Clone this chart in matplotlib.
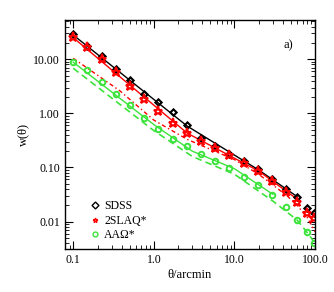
import numpy as np
import matplotlib
matplotlib.use("Agg")
import matplotlib.pyplot as plt
from matplotlib.ticker import FixedLocator, LogLocator, NullFormatter

# ---- data ----
theta = [0.1, 0.15, 0.225, 0.3375, 0.506, 0.759, 1.139, 1.709, 2.563, 3.844,
         5.767, 8.65, 12.97, 19.46, 29.19, 43.79, 60.0, 80.0, 98.0]
w_sdss = [28.7, 17.6, 11.7, 6.47, 4.14, 2.25, 1.60, 1.04, 0.597, 0.351,
          0.249, 0.181, 0.132, 0.0937, 0.0613, 0.040, 0.0288, 0.0181, 0.0146]
w_2slaq = [25.8, 17.0, 10.1, 5.75, 3.21, 1.87, 1.12, 0.673, 0.429, 0.315,
           0.229, 0.170, 0.120, 0.0873, 0.0571, 0.0357, 0.0233, 0.0142, 0.0115]
w_aao = [8.81, 6.34, 3.76, 2.28, 1.43, 0.822, 0.515, 0.332, 0.249, 0.181,
         0.132, 0.099, 0.0676, 0.0475, 0.0310, 0.0184, 0.0107, 0.0063, 0.0040]

# model curves
theta_sdss_fit = [0.1, 2.6, 20.0, 60.0]
w_sdss_fit = [28.0, 0.58, 0.090, 0.029]
theta_2slaq_fit = [0.1, 2.6, 20.0, 60.0]
w_2slaq_fit = [25.0, 0.43, 0.086, 0.026]
theta_2slaq_alt = [0.1, 0.38, 1.0, 2.6, 10.0, 20.0, 45.0, 60.0, 80.0, 100.0]
w_2slaq_alt = [10.4, 2.6, 0.75, 0.33, 0.14, 0.075, 0.030, 0.020, 0.012, 0.0065]
theta_aao_fit = [0.1, 1.0, 3.0, 10.0, 30.0]
w_aao_fit = [8.8, 0.62, 0.20, 0.095, 0.032]
theta_aao_alt = [0.1, 1.0, 3.0, 10.0, 30.0, 60.0, 80.0, 100.0]
w_aao_alt = [6.8, 0.48, 0.16, 0.075, 0.024, 0.0107, 0.0063, 0.0040]

xticks = [0.1, 1.0, 10.0, 100.0]
xticklabels = ["0.1", "1.0", "10.0", "100.0"]
yticks = [0.01, 0.1, 1.0, 10.0]
yticklabels = ["0.01", "0.10", "1.00", "10.00"]

GREEN = "#3be33b"
RED = "#ff0000"

plt.rcParams['font.family'] = ['Liberation Serif', 'DejaVu Serif']
plt.rcParams['mathtext.fontset'] = 'stix'

fig = plt.figure(figsize=(3.34, 2.92), dpi=100)
ax = fig.add_axes([0.1946, 0.1462, 0.7485, 0.7853])

# model lines
ax.plot(theta_sdss_fit, w_sdss_fit, color='black', lw=1.0)
ax.plot(theta_2slaq_fit, w_2slaq_fit, color=RED, lw=1.0)
ax.plot(theta_2slaq_alt, w_2slaq_alt, color=RED, lw=1.0, linestyle=(0, (3, 2, 1, 2)))
ax.plot(theta_aao_fit, w_aao_fit, color=GREEN, lw=1.0)
ax.plot(theta_aao_alt, w_aao_alt, color=GREEN, lw=1.2, linestyle=(0, (4, 2.5)))

# data points
ax.plot(theta, w_sdss, linestyle='none', marker='D', ms=3.2, mfc='none',
        mec='black', mew=1.5, label='SDSS')
ax.plot(theta, w_2slaq, linestyle='none', marker='*', ms=6.5, mfc='none',
        mec=RED, mew=1.5, label='2SLAQ*')
ax.plot(theta, w_aao, linestyle='none', marker='o', ms=4, mfc='none',
        mec=GREEN, mew=1.4, label='AAΩ*')

ax.set_xscale('log')
ax.set_yscale('log')
ax.set_xlim(0.079, 100)
ax.set_ylim(0.00308, 53)

ax.xaxis.set_major_locator(FixedLocator(xticks))
ax.set_xticklabels(xticklabels)
ax.yaxis.set_major_locator(FixedLocator(yticks))
ax.set_yticklabels(yticklabels)
ax.xaxis.set_minor_locator(LogLocator(base=10, subs=np.arange(2, 10), numticks=20))
ax.yaxis.set_minor_locator(LogLocator(base=10, subs=np.arange(2, 10), numticks=20))
ax.xaxis.set_minor_formatter(NullFormatter())
ax.yaxis.set_minor_formatter(NullFormatter())
ax.tick_params(which='both', direction='in', top=True, right=True, labelsize=8.5)
ax.tick_params(which='major', length=6, width=0.8)
ax.tick_params(which='minor', length=3, width=0.6)
for s in ax.spines.values():
    s.set_linewidth(1.0)

ax.set_xlabel('θ/arcmin', fontsize=9, labelpad=2)
ax.set_ylabel('w(θ)', fontsize=9, labelpad=3)
ax.text(0.892, 0.89, 'a)', transform=ax.transAxes, fontsize=9, ha='center', va='center')

leg = ax.legend(loc='lower left', bbox_to_anchor=(0.082, 0.015), frameon=False,
                fontsize=8.5, handlelength=0.8, handletextpad=0.4,
                labelspacing=0.2, borderaxespad=0.0)
for h in leg.legend_handles:
    h.set_markersize(3.5)
    h.set_markeredgewidth(1.0)

fig.savefig('out.png', dpi=100)
